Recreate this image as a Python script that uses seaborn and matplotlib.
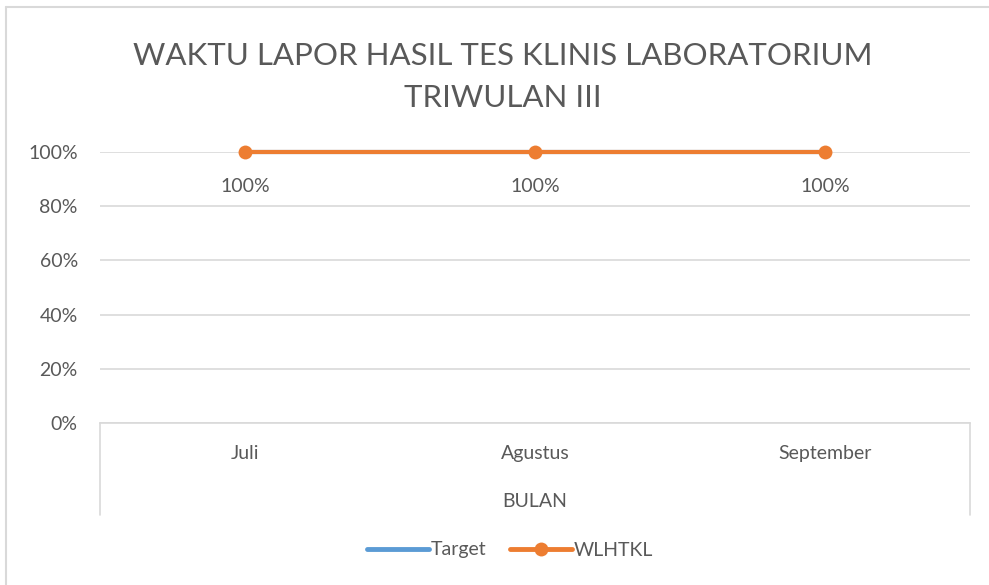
import matplotlib
matplotlib.use("Agg")
import matplotlib.pyplot as plt
from matplotlib.lines import Line2D
import pandas as pd
import seaborn as sns

# Data
BULAN = ["Juli", "Agustus", "September"]
TARGET = [1.0, 1.0, 1.0]
WLHTKL = [1.0, 1.0, 1.0]

BIRU = "#5B9BD5"
ORANYE = "#ED7D31"
ABU_TEKS = "#595959"
ABU_GARIS = "#D9D9D9"

sns.set_theme(style="white")
plt.rcParams["font.family"] = ["Lato", "DejaVu Sans"]

df = pd.DataFrame({"bulan": BULAN, "Target": TARGET, "WLHTKL": WLHTKL})

fig = plt.figure(figsize=(9.89, 5.85), dpi=100)
ax = fig.add_axes([100 / 989, 1 - 423 / 585, 870 / 989, 271 / 585])

sns.lineplot(data=df, x="bulan", y="Target", ax=ax, color=BIRU,
             linewidth=3, sort=False, clip_on=False)
sns.lineplot(data=df, x="bulan", y="WLHTKL", ax=ax, color=ORANYE,
             linewidth=3, marker="o", markersize=10, markeredgewidth=0,
             sort=False, clip_on=False)

# label data di bawah titik
for i, v in enumerate(WLHTKL):
    ax.annotate(f"{v:.0%}", (i, v), xytext=(0, -25), textcoords="offset points",
                ha="center", va="center", fontsize=14, color=ABU_TEKS)

ax.set_xlim(-0.5, len(BULAN) - 0.5)
ax.set_ylim(0, 1)
ax.set_yticks([0, 0.2, 0.4, 0.6, 0.8, 1.0])
ax.set_yticklabels([f"{t:.0%}" for t in ax.get_yticks()])
ax.yaxis.grid(True, color=ABU_GARIS, linewidth=1.2)
ax.set_axisbelow(True)
ax.tick_params(axis="y", length=0, pad=16, labelsize=14, labelcolor=ABU_TEKS)
ax.tick_params(axis="x", length=0, pad=16, labelsize=14, labelcolor=ABU_TEKS)
ax.set_xlabel("BULAN", fontsize=14, color=ABU_TEKS, labelpad=22)
ax.set_ylabel("")

for s in ["top", "right", "left"]:
    ax.spines[s].set_visible(False)
ax.spines["bottom"].set_color(ABU_GARIS)
ax.spines["bottom"].set_linewidth(1.2)

# garis batas kategori (sumbu bertingkat ala Excel)
for xpos in [0, 1]:
    ax.plot([xpos, xpos], [0, -0.34], transform=ax.transAxes, color=ABU_GARIS,
            linewidth=1.2, clip_on=False)

fig.suptitle("WAKTU LAPOR HASIL TES KLINIS LABORATORIUM\nTRIWULAN III",
             x=503 / 989, y=1 - 77 / 585, va="center", fontsize=22.5,
             color=ABU_TEKS, linespacing=1.65)

handles = [
    Line2D([], [], color=BIRU, linewidth=3.5, solid_capstyle="round"),
    Line2D([], [], color=ORANYE, linewidth=3.5, marker="o", markersize=10,
           markeredgewidth=0, solid_capstyle="round"),
]
fig.legend(handles, ["Target", "WLHTKL"], loc="center", ncol=2, frameon=False,
           bbox_to_anchor=(510 / 989, 1 - 550 / 585), fontsize=14,
           labelcolor=ABU_TEKS, handlelength=3.2, handletextpad=0.1,
           columnspacing=1.2)

# bingkai luar grafik
fig.add_artist(Line2D([6 / 989, 1], [1 - 7 / 585] * 2, color=ABU_GARIS, linewidth=1.5))
fig.add_artist(Line2D([6 / 989] * 2, [0, 1 - 7 / 585], color=ABU_GARIS, linewidth=1.5))

fig.savefig("out.png", dpi=100)
plt.close(fig)
